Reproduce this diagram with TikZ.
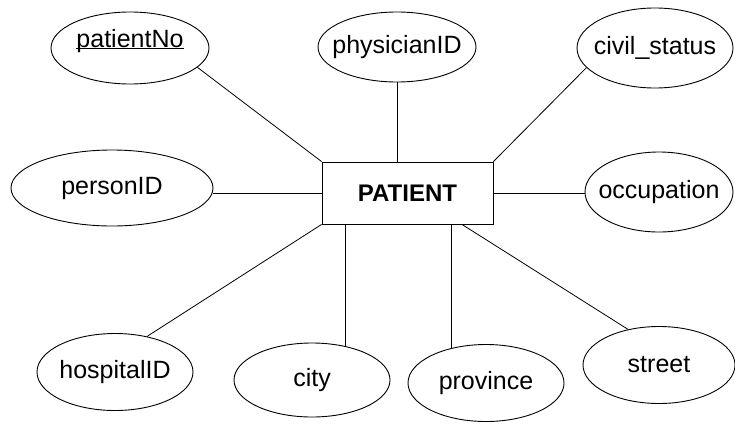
\documentclass[tikz,border=0pt]{standalone}
\usepackage{fontspec}
\setmainfont{Liberation Sans}
\usetikzlibrary{shapes.geometric}
\tikzset{
  attr/.style={draw, ellipse, inner sep=0pt, line width=0.9pt, font=\fontsize{25}{30}\selectfont},
  entity/.style={draw, rectangle, inner sep=0pt, line width=0.9pt, minimum width=171pt, minimum height=62pt, font=\fontsize{24}{30}\selectfont\bfseries},
  link/.style={line width=0.8pt}
}
\newcommand{\ctext}[1]{\makebox[0pt]{#1}}
\begin{document}
\begin{tikzpicture}[x=1pt,y=-1pt]
\useasboundingbox (0,0) rectangle (735,423);
\node[entity] (patient) at (407.5,193) {PATIENT};
\node[attr, minimum width=158pt, minimum height=72pt] (pn) at (130,48) {\ctext{\underline{\smash{patientNo}}}};
\node[attr, minimum width=158pt, minimum height=70pt] (ph) at (397,47) {\ctext{physicianID}};
\node[attr, minimum width=156pt, minimum height=80pt] (cs) at (655,48) {\ctext{civil\_status}};
\node[attr, minimum width=202pt, minimum height=76pt] (pid) at (112,188) {\ctext{personID}};
\node[attr, minimum width=148pt, minimum height=80pt] (occ) at (659,192) {\ctext{occupation}};
\node[attr, minimum width=156pt, minimum height=77pt] (hosp) at (115,372) {\ctext{hospitalID}};
\node[attr, minimum width=156pt, minimum height=74pt] (city) at (312,380) {\ctext{city}};
\node[attr, minimum width=156pt, minimum height=77pt] (prov) at (486,383) {\ctext{province}};
\node[attr, minimum width=152pt, minimum height=77pt] (st) at (659,365) {\ctext{street}};
\draw[link] (pn.-16) -- (patient.north west);
\draw[link] (ph.south) -- (ph.south |- patient.north);
\draw[link] (cs.196) -- (patient.north east);
\draw[link] (patient.west) -- (patient.west -| pid.east);
\draw[link] (patient.east) -- (patient.east -| occ.west);
\draw[link] (hosp.48) -- (patient.south west);
\draw[link] (city.45) -- (city.45 |- patient.south);
\draw[link] (prov.135) -- (prov.135 |- patient.south);
\draw[link] (st.131) -- ([xshift=54.5pt]patient.south);
\end{tikzpicture}
\end{document}
